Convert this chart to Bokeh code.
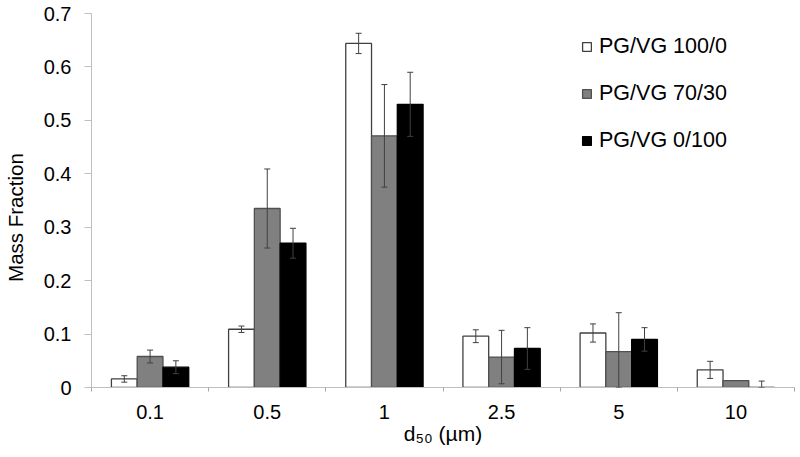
import numpy as np
from bokeh.plotting import figure
from bokeh.models import (ColumnDataSource, Range1d, FixedTicker, Whisker, TeeHead,
                          CustomJSTickFormatter, Legend, LegendItem)
from bokeh.embed import file_html
from bokeh.resources import INLINE

# ---- data ----
categories = ["0.1", "0.5", "1", "2.5", "5", "10"]
series_names = ["PG/VG 100/0", "PG/VG 70/30", "PG/VG 0/100"]
pg100 = [0.016, 0.109, 0.644, 0.096, 0.102, 0.033]
pg100_err = [0.006, 0.006, 0.019, 0.012, 0.017, 0.016]
pg70 = [0.058, 0.335, 0.471, 0.057, 0.067, 0.013]
pg70_err = [0.012, 0.074, 0.096, 0.050, 0.073, 0.0]
pg0 = [0.038, 0.270, 0.530, 0.073, 0.090, 0.0]
pg0_err = [0.012, 0.028, 0.060, 0.039, 0.022, 0.012]
y_ticks = [0.0, 0.1, 0.2, 0.3, 0.4, 0.5, 0.6, 0.7]

FONT = "Liberation Sans"
fills = ["#ffffff", "#808080", "#000000"]
lines = ["#404040", "#505050", "#000000"]
offsets = [-0.22, 0.0, 0.22]
bar_w = 0.22

n = len(categories)
centers = np.arange(n) + 0.5

p = figure(width=800, height=457, output_backend="svg", toolbar_location=None,
           x_range=Range1d(0, n), y_range=Range1d(0, 0.7),
           min_border_left=88, min_border_right=6, min_border_top=13, min_border_bottom=70)
p.background_fill_color = "white"
p.border_fill_color = "white"
p.outline_line_color = None
p.xgrid.visible = False
p.ygrid.visible = False

renderers = []
for vals, errs, fc, lc, off in zip([pg100, pg70, pg0], [pg100_err, pg70_err, pg0_err],
                                   fills, lines, offsets):
    x = centers + off
    src = ColumnDataSource(dict(x=x, top=vals))
    r = p.vbar(x="x", top="top", width=bar_w, source=src, fill_color=fc,
               line_color=lc, line_width=1.3)
    renderers.append(r)
    v = np.array(vals)
    e = np.array(errs)
    mask = e > 0
    esrc = ColumnDataSource(dict(x=x[mask], upper=(v + e)[mask],
                                 lower=np.maximum(v - e, 0)[mask]))
    w = Whisker(source=esrc, base="x", upper="upper", lower="lower",
                line_color="#404040", line_width=1, level="overlay",
                upper_head=TeeHead(size=6, line_color="#404040", line_width=1),
                lower_head=TeeHead(size=6, line_color="#404040", line_width=1))
    p.add_layout(w)

# x axis
xa = p.xaxis[0]
xa.ticker = FixedTicker(ticks=list(centers), minor_ticks=list(range(n + 1)))
xa.major_label_overrides = {float(c): lab for c, lab in zip(centers, categories)}
xa.major_tick_out = 0
xa.major_tick_in = 0
xa.minor_tick_out = 4
xa.minor_tick_in = 0
xa.minor_tick_line_color = "#a6a6a6"
xa.axis_line_color = "#bfbfbf"
xa.axis_line_width = 1
xa.major_label_text_font = FONT
xa.major_label_text_font_size = "20px"
xa.major_label_text_color = "#000000"
xa.major_label_standoff = 13
xa.axis_label = "d\u2085\u2080 (\u00b5m)"
xa.axis_label_text_font = FONT
xa.axis_label_text_font_size = "21px"
xa.axis_label_text_font_style = "normal"
xa.axis_label_text_color = "#000000"
xa.axis_label_standoff = 0

# y axis
ya = p.yaxis[0]
ya.ticker = FixedTicker(ticks=y_ticks, minor_ticks=[])
ya.formatter = CustomJSTickFormatter(code="return tick === 0 ? '0' : tick.toFixed(1);")
ya.major_tick_out = 7
ya.major_tick_in = 0
ya.minor_tick_out = 0
ya.minor_tick_in = 0
ya.major_tick_line_color = "#bfbfbf"
ya.axis_line_color = "#bfbfbf"
ya.major_label_text_font = FONT
ya.major_label_text_font_size = "20px"
ya.major_label_text_color = "#000000"
ya.major_label_standoff = 13
# trailing no-break spaces nudge the visible title slightly below the frame centre, as in the reference
ya.axis_label = "Mass Fraction" + "\u00a0" * 6
ya.axis_label_text_font = FONT
ya.axis_label_text_font_size = "20.5px"
ya.axis_label_text_font_style = "normal"
ya.axis_label_text_color = "#000000"
ya.axis_label_standoff = 14

legend = Legend(items=[LegendItem(label=nm, renderers=[r]) for nm, r in zip(series_names, renderers)],
                location=(490, 234), padding=0, margin=0, spacing=22,
                glyph_width=11, glyph_height=11, label_standoff=7,
                label_text_font=FONT, label_text_font_size="21.5px",
                label_text_color="#000000",
                border_line_color=None, background_fill_alpha=0)
p.add_layout(legend, "center")

open("out.html", "w").write(file_html(p, INLINE))
